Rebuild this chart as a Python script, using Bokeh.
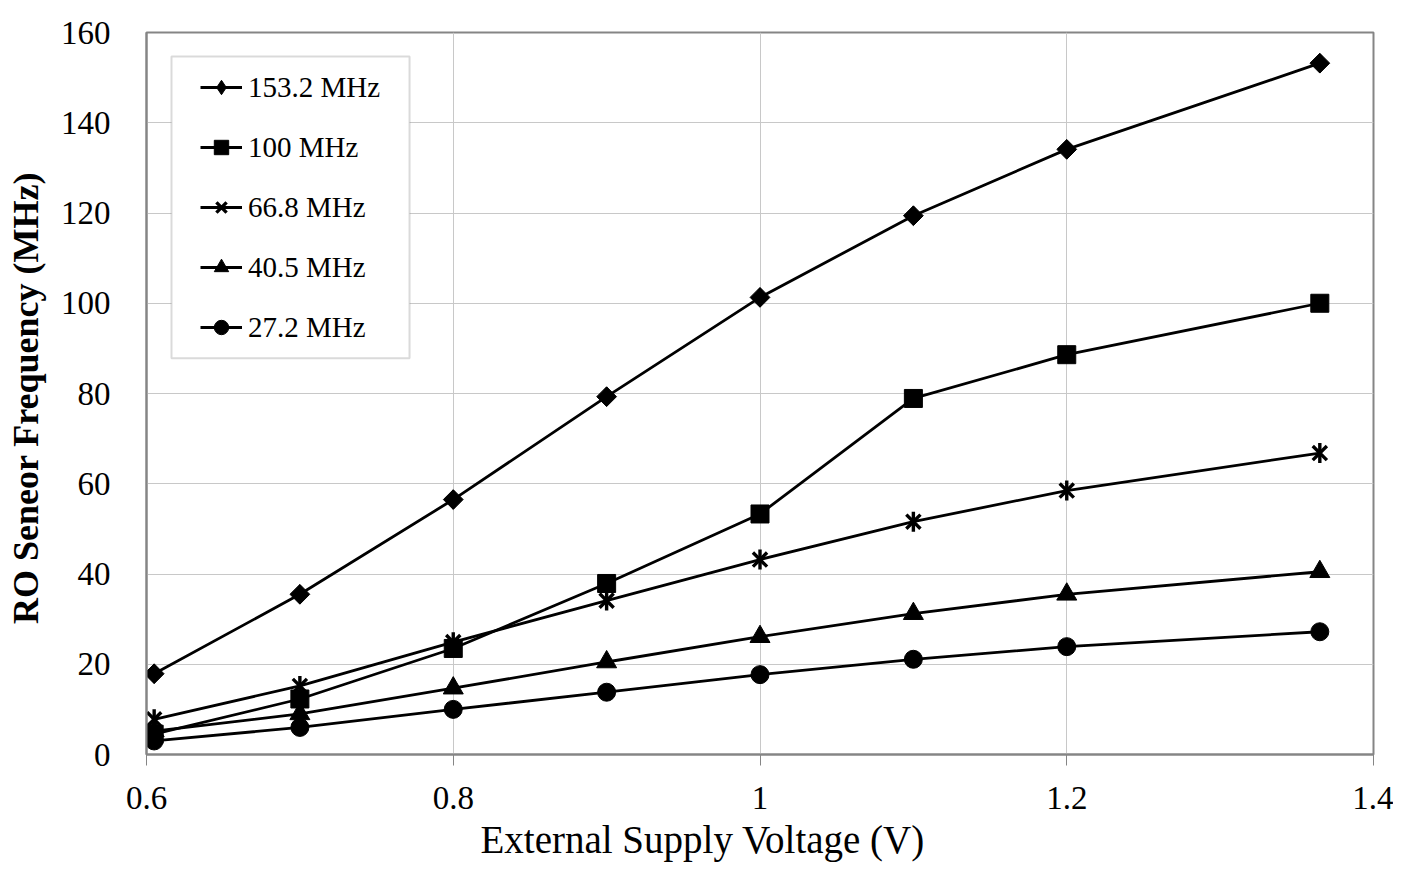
from bokeh.plotting import figure
from bokeh.models import (Range1d, FixedTicker, CustomJSTickFormatter, Legend, LegendItem,
                          BoxAnnotation, Title)
from bokeh.embed import file_html
from bokeh.resources import INLINE
import math

voltage = [0.605, 0.7, 0.8, 0.9, 1.0, 1.1, 1.2, 1.365]
f_153 = [17.9, 35.5, 56.5, 79.3, 101.3, 119.4, 134.1, 153.2]
f_100 = [4.5, 12.3, 23.5, 37.9, 53.3, 78.9, 88.6, 100.0]
f_668 = [7.8, 15.2, 24.9, 34.1, 43.2, 51.6, 58.5, 66.8]
f_405 = [5.2, 9.0, 14.7, 20.5, 26.1, 31.2, 35.5, 40.5]
f_272 = [3.0, 6.0, 10.0, 13.8, 17.7, 21.1, 23.9, 27.2]
labels = ["153.2 MHz", "100 MHz", "66.8 MHz", "40.5 MHz", "27.2 MHz"]
x_title = "External Supply Voltage (V)"
y_title = "RO Seneor Frequency  (MHz)"

FONT = "Liberation Serif"
GRAY = "#858585"

p = figure(width=1393, height=866, output_backend="svg", toolbar_location=None,
           x_range=Range1d(0.6, 1.4), y_range=Range1d(0, 160),
           min_border_left=146, min_border_top=32, min_border_right=20, min_border_bottom=112)

p.outline_line_color = GRAY
p.outline_line_width = 2
p.background_fill_color = "white"
p.border_fill_color = "white"

p.xgrid.grid_line_color = "#c8c8c8"
p.ygrid.grid_line_color = "#c8c8c8"
p.xgrid.grid_line_width = 1
p.ygrid.grid_line_width = 1

p.xaxis.ticker = FixedTicker(ticks=[0.6, 0.8, 1.0, 1.2, 1.4])
p.yaxis.ticker = FixedTicker(ticks=list(range(0, 161, 20)))
p.xaxis.formatter = CustomJSTickFormatter(code="return (Math.round(tick*10)/10).toString();")
p.xaxis.minor_tick_line_color = None
p.yaxis.minor_tick_line_color = None
p.xaxis.major_tick_out = 11
p.xaxis.major_tick_in = 0
p.yaxis.major_tick_out = 0
p.yaxis.major_tick_in = 0
p.xaxis.major_tick_line_color = GRAY
p.axis.axis_line_color = GRAY
p.axis.axis_line_width = 2
p.axis.major_label_text_font = FONT
p.axis.major_label_text_font_size = "33px"
p.axis.major_label_text_color = "black"
p.xaxis.major_label_standoff = 21
p.yaxis.major_label_standoff = 36

p.yaxis.axis_label = y_title
p.yaxis.axis_label_text_font = FONT
p.yaxis.axis_label_text_color = "black"
p.yaxis.axis_label_text_font_size = "36px"
p.yaxis.axis_label_text_font_style = "bold"
p.yaxis.axis_label_standoff = 12

# x-axis title: sits left of the frame centre in the original
p.add_layout(Title(text=x_title, align="left", offset=334, standoff=9,
                   text_font=FONT, text_font_size="39px", text_font_style="normal",
                   text_color="black"), "below")

# legend frame (layout only)
p.add_layout(BoxAnnotation(left=0.6163, right=0.7715, bottom=87.8, top=154.7,
                           fill_color="white", fill_alpha=1.0,
                           line_color=GRAY, line_width=2, level="annotation"))

LW = 2.8
items = []
series = [(f_153, "diamond"), (f_100, "square"), (f_668, "asterisk6"),
          (f_405, "triangle"), (f_272, "circle")]
for (ys, mk), lab in zip(series, labels):
    r_line = p.line(voltage, ys, line_color="black", line_width=LW)
    rs = [r_line]
    if mk == "asterisk6":
        r1 = p.scatter(voltage, ys, marker="x", size=20, line_color="black", line_width=3.4)
        p.scatter(voltage, ys, marker="dash", size=20, angle=math.pi / 2,
                  line_color="black", line_width=3.4)
        rs.append(r1)
    elif mk == "diamond":
        # narrow diamond (used for the legend symbol), covered by a rotated square
        r_d = p.scatter(voltage, ys, marker="diamond", size=19,
                        fill_color="black", line_color="black")
        p.scatter(voltage, ys, marker="square", size=14, angle=math.pi / 4,
                  fill_color="black", line_color="black")
        rs.append(r_d)
    elif mk == "square":
        rs.append(p.scatter(voltage, ys, marker="square", size=18,
                            fill_color="black", line_color="black"))
    elif mk == "triangle":
        rs.append(p.scatter(voltage, ys, marker="triangle", size=20,
                            fill_color="black", line_color="black"))
    else:
        rs.append(p.scatter(voltage, ys, marker="circle", size=18,
                            fill_color="black", line_color="black"))
    items.append(LegendItem(label=lab, renderers=rs))

legend = Legend(items=items, location=(54, 409))
legend.label_text_font = FONT
legend.label_text_font_size = "29px"
legend.label_text_color = "black"
legend.glyph_width = 42
legend.glyph_height = 36
legend.label_standoff = 6
legend.spacing = 24
legend.padding = 0
legend.margin = 0
legend.border_line_color = None
legend.background_fill_alpha = 0.0
p.add_layout(legend)

open("out.html", "w").write(file_html(p, INLINE))
